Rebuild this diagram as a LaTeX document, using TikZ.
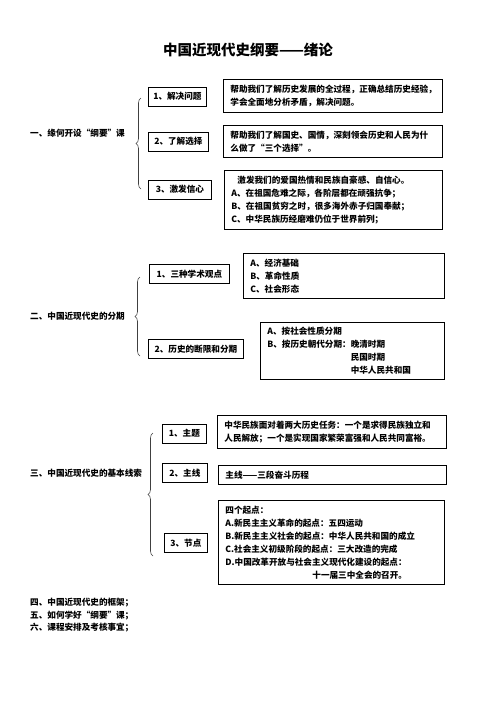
\documentclass[tikz,border=0pt]{standalone}
\usepackage{fontspec}
\setmainfont{Noto Sans CJK SC}
\usetikzlibrary{positioning, decorations.pathreplacing}

\begin{document}
\begin{tikzpicture}[
  x=1pt, y=-1pt,
  every node/.style={font=\fontsize{8.6}{13}\selectfont\bfseries, inner sep=0pt},
  topic/.style={anchor=west},
  itembox/.style={rectangle, draw, line width=0.8pt, anchor=west, minimum height=19pt},
  descbox/.style={rectangle, draw, line width=0.8pt, anchor=north west, align=left, inner xsep=7pt},
  curly/.style={decorate, decoration={brace, amplitude=5pt}, line width=0.6pt, black!75},
]
  \useasboundingbox (0,0) rectangle (496,702);

  % 标题
  \node[font=\fontsize{14.5}{16}\selectfont\bfseries] (title) at (248,50) {中国近现代史纲要——绪论};

  % 一
  \node[topic] (s1) at (30,133) {一、缘何开设“纲要”课};
  \draw[curly] (141,189) -- (141,98);
  \node[itembox, minimum width=58pt] (s1a) at (148,96.5) {1、解决问题};
  \node[itembox, minimum width=60pt] (s1b) at (148,141.5) {2、了解选择};
  \node[itembox, minimum width=63pt] (s1c) at (148,189.5) {3、激发信心};
  \node[descbox, text width=205pt, minimum height=33pt] (d1a) at (223,79)
    {帮助我们了解历史发展的全过程，正确总结历史经验，\\学会全面地分析矛盾，解决问题。};
  \node[descbox, text width=205pt, minimum height=32pt] (d1b) at (223,125)
    {帮助我们了解国史、国情，深刻领会历史和人民为什\\么做了“三个选择”。};
  \node[descbox, text width=204pt, minimum height=59pt] (d1c) at (224,170)
    {\hspace*{6pt}激发我们的爱国热情和民族自豪感、自信心。\\
     A、在祖国危难之际，各阶层都在顽强抗争；\\
     B、在祖国贫穷之时，很多海外赤子归国奉献；\\
     C、中华民族历经磨难仍位于世界前列；};

  % 二
  \node[topic] (s2) at (30,316) {二、中国近现代史的分期};
  \draw[curly] (140,356) -- (140,277);
  \node[itembox, minimum width=80pt] (s2a) at (149,274) {1、三种学术观点};
  \node[itembox, minimum width=95pt] (s2b) at (148,349) {2、历史的断限和分期};
  \node[descbox, text width=187pt, minimum height=45pt] (d2a) at (243,253)
    {A、经济基础\\B、革命性质\\C、社会形态};
  \node[descbox, text width=170pt, minimum height=57pt] (d2b) at (260,322)
    {A、按社会性质分期\\
     B、按历史朝代分期：晚清时期\\
     \phantom{B、按历史朝代分期：}民国时期\\
     \phantom{B、按历史朝代分期：}中华人民共和国};

  % 三
  \node[topic] (s3) at (30,473) {三、中国近现代史的基本线索};
  \draw[curly] (153,556) -- (153,433);
  \node[itembox, minimum width=44pt] (s3a) at (162,433.5) {1、主题};
  \node[itembox, minimum width=45pt] (s3b) at (162,473) {2、主线};
  \node[itembox, minimum width=43pt] (s3c) at (164,543) {3、节点};
  \node[descbox, text width=215pt, minimum height=33pt] (d3a) at (217,415)
    {中华民族面对着两大历史任务：一个是求得民族独立和\\人民解放；一个是实现国家繁荣富强和人民共同富裕。};
  \node[descbox, text width=214pt, minimum height=19pt] (d3b) at (218,465)
    {主线——三段奋斗历程};
  \node[descbox, text width=212pt, minimum height=84pt] (d3c) at (218,500)
    {四个起点：\\
     A.新民主主义革命的起点：五四运动\\
     B.新民主主义社会的起点：中华人民共和国的成立\\
     C.社会主义初级阶段的起点：三大改造的完成\\
     D.中国改革开放与社会主义现代化建设的起点：\\
     \hspace*{87pt}十一届三中全会的召开。};

  % 四、五、六
  \node[topic] (s4) at (30,603) {四、中国近现代史的框架；};
  \node[topic] (s5) at (30,615.5) {五、如何学好“纲要”课；};
  \node[topic] (s6) at (30,628) {六、课程安排及考核事宜；};
\end{tikzpicture}
\end{document}
